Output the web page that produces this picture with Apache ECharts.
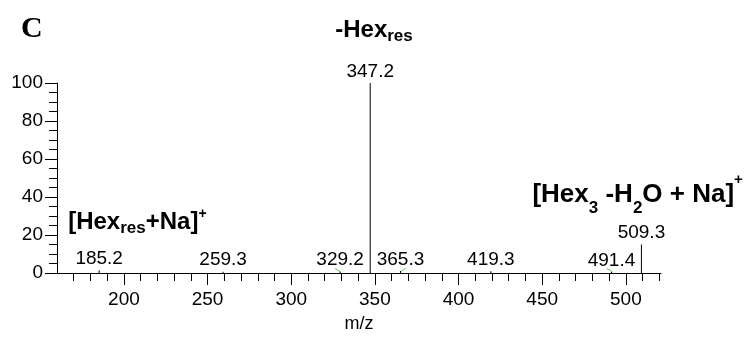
<!DOCTYPE html>
<html>
<head>
<meta charset="utf-8">
<script src="https://cdn.jsdelivr.net/npm/echarts@6/dist/echarts.min.js"></script>
<style>
  html, body { margin: 0; padding: 0; background: #fff; }
  #chart { width: 745px; height: 338px; }
</style>
</head>
<body>
<div id="chart"></div>
<script>
// Centroided peaks of the MS/MS spectrum (m/z, relative intensity %)
const peakMz = [185.2, 259.3, 329.2, 347.2, 365.3, 419.3, 491.4, 509.3];
const peakIntensity = [1.5, 0.7, 0.7, 100, 1.0, 0.9, 0.5, 15];

// Tick positions on the m/z axis
const mzMajorTicks = [200, 250, 300, 350, 400, 450, 500];
const mzMinorTicks = [170, 180, 190, 210, 220, 230, 240, 260, 270, 280, 290,
  310, 320, 330, 340, 360, 370, 380, 390, 410, 420, 430, 440,
  460, 470, 480, 490, 510, 520];

// Short green profile strokes next to some peaks (null breaks the line)
const profileMz = [326.2, 329.6, null, 365.0, 368.4, null, 488.5, 492.1];
const profileIntensity = [2.4, 0.5, null, 0.6, 2.4, null, 2.4, 0.6];

const SANS = '"Liberation Sans", Arial, sans-serif';

const peakData = peakMz.map((mz, i) => [mz, peakIntensity[i]]);
const profileData = profileMz.map((mz, i) =>
  mz === null ? [null, '-'] : [mz, profileIntensity[i]]);

const chart = echarts.init(document.getElementById('chart'), null, { renderer: 'canvas' });

const axisBase = {
  type: 'value',
  min: 160,
  max: 521,
  gridIndex: 0,
  splitLine: { show: false }
};

chart.setOption({
  animation: false,
  backgroundColor: '#fff',
  title: {
    text: 'C',
    left: 21,
    top: 14,
    padding: 0,
    textStyle: { fontFamily: '"Liberation Serif", "Times New Roman", serif', fontWeight: 'bold', fontSize: 30, color: '#000' }
  },
  grid: { left: 57, right: 84, top: 83, bottom: 60 },
  xAxis: [
    Object.assign({}, axisBase, {
      position: 'bottom',
      name: 'm/z',
      nameLocation: 'middle',
      nameGap: 42,
      nameTextStyle: { fontFamily: SANS, fontSize: 18, color: '#000' },
      axisLine: { show: true, onZero: false, lineStyle: { color: '#000', width: 1 } },
      axisTick: { show: true, inside: false, length: 12, customValues: mzMajorTicks, lineStyle: { color: '#000', width: 1 } },
      axisLabel: { show: true, customValues: mzMajorTicks, margin: 17, fontFamily: SANS, fontSize: 19, color: '#000' }
    }),
    Object.assign({}, axisBase, {
      position: 'bottom',
      axisLine: { show: false },
      axisTick: { show: true, inside: false, length: 8, customValues: mzMinorTicks, lineStyle: { color: '#000', width: 1 } },
      axisLabel: { show: false, customValues: mzMinorTicks }
    })
  ],
  yAxis: {
    type: 'value',
    min: 0,
    max: 100,
    interval: 20,
    splitLine: { show: false },
    axisLine: { show: true, onZero: false, lineStyle: { color: '#000', width: 1 } },
    axisTick: { show: true, inside: false, length: 12, lineStyle: { color: '#000', width: 1 } },
    minorTick: { show: true, splitNumber: 4, length: 8, lineStyle: { color: '#000', width: 1 } },
    axisLabel: { margin: 14, fontFamily: SANS, fontSize: 19, color: '#000' }
  },
  series: [
    {
      type: 'bar',
      xAxisIndex: 0,
      yAxisIndex: 0,
      data: peakData,
      barWidth: 1,
      itemStyle: { color: '#000' },
      label: {
        show: true,
        position: 'top',
        distance: 2,
        fontFamily: SANS,
        fontSize: 19,
        color: '#000',
        formatter: p => p.value[0].toFixed(1)
      }
    },
    {
      type: 'line',
      xAxisIndex: 0,
      yAxisIndex: 0,
      data: profileData,
      connectNulls: false,
      symbol: 'none',
      lineStyle: { color: '#5cc85c', width: 1 },
      z: 1
    }
  ]
});

// Fragment annotations, placed relative to the peaks they describe
function tok(size, lineHeight, verticalAlign) {
  const s = { fontFamily: SANS, fontWeight: 'bold', fontSize: size, lineHeight: lineHeight, fill: '#000', color: '#000' };
  if (verticalAlign) s.verticalAlign = verticalAlign;
  return s;
}

function anchor(mz, intensity) {
  return chart.convertToPixel({ xAxisIndex: 0, yAxisIndex: 0 }, [mz, intensity]);
}

const pBase = anchor(peakMz[3], peakIntensity[3]);
const pNa = anchor(peakMz[0], peakIntensity[0]);
const pHex3 = anchor(peakMz[7], peakIntensity[7]);

chart.setOption({
  graphic: [
    {
      type: 'text',
      x: pBase[0] - 35,
      y: pBase[1] - 68,
      style: {
        text: '{m|-Hex}{s|res}',
        rich: { m: tok(24, 30), s: tok(17, 9, 'bottom') }
      }
    },
    {
      type: 'text',
      x: pNa[0] - 31,
      y: pNa[1] - 63,
      style: {
        text: '{m|[Hex}{s|res}{m|+Na]}{p|+}',
        rich: { m: tok(24, 30), s: tok(17, 21, 'bottom'), p: tok(14, 3, 'top') }
      }
    },
    {
      type: 'text',
      x: pHex3[0] - 109,
      y: pHex3[1] - 72,
      style: {
        text: '{m|[Hex}{s|3}{m| -H}{s|2}{m|O + Na]}{p|+}',
        rich: { m: tok(26, 44), s: tok(17, 24, 'bottom'), p: tok(15, 2, 'top') }
      }
    }
  ]
});
</script>
</body>
</html>
